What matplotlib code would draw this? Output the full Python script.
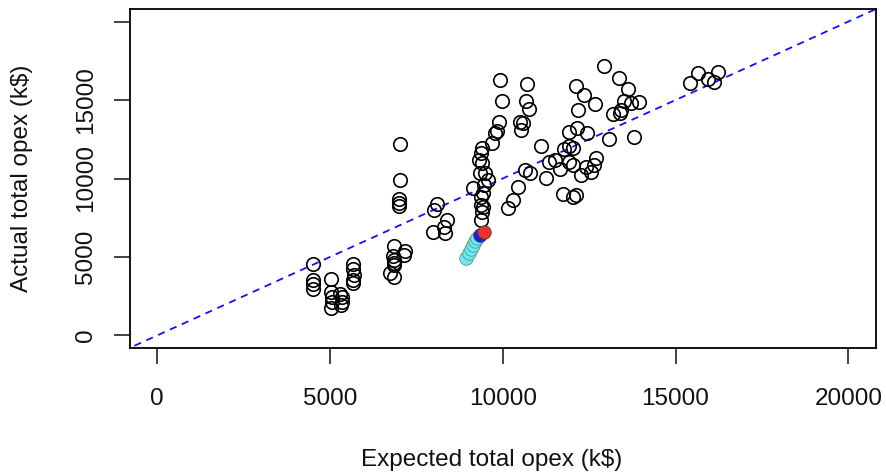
import matplotlib
matplotlib.use("Agg")
import matplotlib.pyplot as plt

plt.rcParams['font.family'] = ['Liberation Sans', 'DejaVu Sans']

# expected vs actual opex (k$)
expected = [4500, 4500, 4500, 4500,
            5040, 5040, 5070, 5070, 5040, 5300, 5360, 5360, 5330,
            5680, 5680, 5710, 5680, 5680,
            6840, 6810, 6840, 6840, 6840, 7160, 7130, 6750, 6840,
            7040, 7040, 7010, 7010, 7010,
            8000, 8110, 8400, 8290, 7970, 8340,
            9150, 9410, 9360, 9300, 9410, 9330, 9500, 9560, 9440, 9360, 9440, 9410,
            9360, 9700, 9790, 9820, 9880, 9910, 9990, 9380, 9470,
            10690, 10660, 10750, 10490, 10600, 10540, 10630, 10780, 10430, 10310, 10140,
            11120, 11240, 11330, 11500, 11670, 11760, 11930, 11930, 12020, 11930, 12020,
            12160, 12110, 12340, 12660, 12190, 12430, 12400, 12690, 12630, 12540, 12250,
            11730, 12020, 12110, 12920, 13350, 13610, 13500, 13700, 13930, 13180, 13380,
            13410, 13060, 13790,
            15410, 15640, 15950, 16240, 16100]
actual = [4580, 3560, 3250, 2950,
          3620, 2740, 2420, 2160, 1720, 2610, 2480, 2160, 1910,
          4580, 4260, 3880, 3560, 3370,
          5720, 5090, 4830, 4640, 4520, 5410, 5150, 4010, 3750,
          12210, 9920, 8710, 8460, 8270,
          8010, 8400, 7380, 6930, 6610, 6550,
          9410, 11960, 11640, 11190, 11000, 10370, 10370, 9920, 9100, 8330, 8200, 7890,
          7380, 12280, 12910, 13040, 13610, 16280, 14950, 8840, 9600,
          16030, 14950, 14440, 13610, 13550, 13100, 10560, 10370, 9480, 8650, 8140,
          12080, 10050, 11070, 11190, 10620, 11890, 12970, 12080, 11960, 11070, 10880,
          13230, 15900, 15330, 14760, 14370, 12910, 10750, 11320, 10880, 10430, 10240,
          9030, 8840, 8970, 17170, 16410, 15710, 14950, 14820, 14880, 14120, 14180,
          14370, 12530, 12660,
          16090, 16730, 16350, 16790, 16150]

# highlighted points
cyan_x = [8950, 9020, 9080, 9140, 9200, 9260]
cyan_y = [4960, 5250, 5520, 5780, 5990, 6180]
blue_x, blue_y = [9330], [6420]
red_x, red_y = [9470], [6610]

xticks = [0, 5000, 10000, 15000, 20000]
yticks = [0, 5000, 10000, 15000, 20000]
ylabels = ['0', '5000', '10000', '15000', '']

fig = plt.figure(figsize=(8.86, 4.75), dpi=100)
ax = fig.add_axes([129.5/886, 1 - 348/475, (876 - 129.5)/886, (348 - 9)/475])

ax.plot([-1000, 21000], [-1000, 21000], color='#1010ff', lw=1.3, ls=(0, (4, 3.2)))
ax.plot(expected, actual, 'o', mfc='none', mec='black', ms=9.7, mew=1.2)
ax.plot(cyan_x, cyan_y, 'o', mfc='#66eef2', mec='#6a8a8c', ms=9.7, mew=0.6)
ax.plot(blue_x, blue_y, 'o', mfc='#1c1cf0', mec='#333355', ms=9.7, mew=0.6)
ax.plot(red_x, red_y, 'o', mfc='#e8352b', mec='#663333', ms=9.7, mew=0.6)

ax.set_xlim(-800, 20800)
ax.set_ylim(-800, 20800)
ax.set_xticks(xticks)
ax.set_xticklabels([str(t) for t in xticks])
ax.set_yticks(yticks)
ax.set_yticklabels(ylabels, rotation=90, va='center')
ax.tick_params(length=11.5, width=1.1, labelsize=17.5, colors='#111111')
ax.tick_params(axis='x', pad=17)
ax.tick_params(axis='y', pad=12)
for s in ax.spines.values():
    s.set_linewidth(1.3)

ax.set_xlabel('Expected total opex (k$)', fontsize=17.5, color='#111111')
ax.set_ylabel('Actual total opex (k$)', fontsize=17.5, labelpad=30, color='#111111')
ax.xaxis.set_label_coords(0.4856, -0.33, transform=ax.transAxes)
ax.xaxis.label.set_va('center')

fig.savefig('out.png', dpi=100)
